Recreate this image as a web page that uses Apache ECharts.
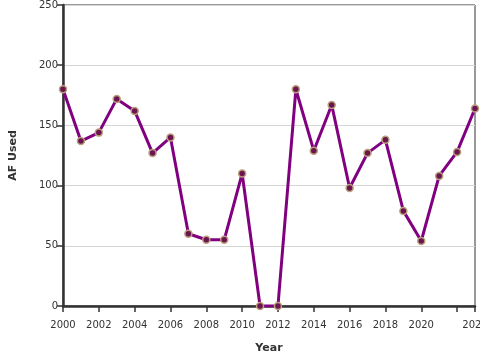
<!DOCTYPE html>
<html>
<head>
<meta charset="utf-8">
<script src="https://cdn.jsdelivr.net/npm/echarts@6/dist/echarts.min.js"></script>
<style>
html,body{margin:0;padding:0;background:#fff;}
#chart{width:480px;height:360px;}
</style>
</head>
<body>
<div id="chart"></div>
<script>
const years = [2000,2001,2002,2003,2004,2005,2006,2007,2008,2009,2010,2011,2012,2013,2014,2015,2016,2017,2018,2019,2020,2021,2022,2023];
const afUsed = [180,137,144,172,162,127,140,60,55,55,110,0,0,180,129,167,98,127,138,79,54,108,128,164];
const xTickValues = [2000,2002,2004,2006,2008,2010,2012,2014,2016,2018,2020,2022,2023];
const xLabelValues = [2000,2002,2004,2006,2008,2010,2012,2014,2016,2018,2020,2023];
const yTicks = [0,50,100,150,200,250];

const chart = echarts.init(document.getElementById('chart'), null, {renderer:'canvas'});
const font = 'DejaVu Sans';
chart.setOption({
  animation:false,
  grid:{left:63,right:5,top:5,bottom:54,outerBoundsMode:'none',containLabel:false,show:true,borderColor:'#333',borderWidth:1,backgroundColor:'transparent'},
  xAxis:{
    type:'value',min:2000,max:2023,
    name:'Year',nameLocation:'middle',nameGap:37,
    nameTextStyle:{fontFamily:font,fontSize:11,fontWeight:'bold',color:'#333'},
    axisLine:{show:true,onZero:false,lineStyle:{color:'#333',width:2.5}},
    axisTick:{show:true,length:6,customValues:xTickValues,lineStyle:{color:'#333',width:1.5}},
    axisLabel:{customValues:xLabelValues,fontFamily:font,fontSize:10,color:'#333',margin:14,formatter:v=>String(v),hideOverlap:false},
    splitLine:{show:false}
  },
  yAxis:{
    type:'value',min:0,max:250,interval:50,
    name:'AF Used',nameLocation:'middle',nameGap:44,
    nameTextStyle:{fontFamily:font,fontSize:11,fontWeight:'bold',color:'#333'},
    axisLine:{show:true,lineStyle:{color:'#333',width:2.5}},
    axisTick:{show:true,length:6,lineStyle:{color:'#333',width:1.5}},
    axisLabel:{fontFamily:font,fontSize:10,color:'#333',margin:5},
    splitLine:{show:true,lineStyle:{color:'#d6d6d6',width:1}}
  },
  series:[{
    type:'line',
    data:years.map((y,i)=>[y,afUsed[i]]),
    symbol:'circle',symbolSize:7,
    lineStyle:{color:'#800080',width:3},
    itemStyle:{color:'#6b1450',borderColor:'#b9a07c',borderWidth:1.5},
    z:3
  }]
});
</script>
</body>
</html>
